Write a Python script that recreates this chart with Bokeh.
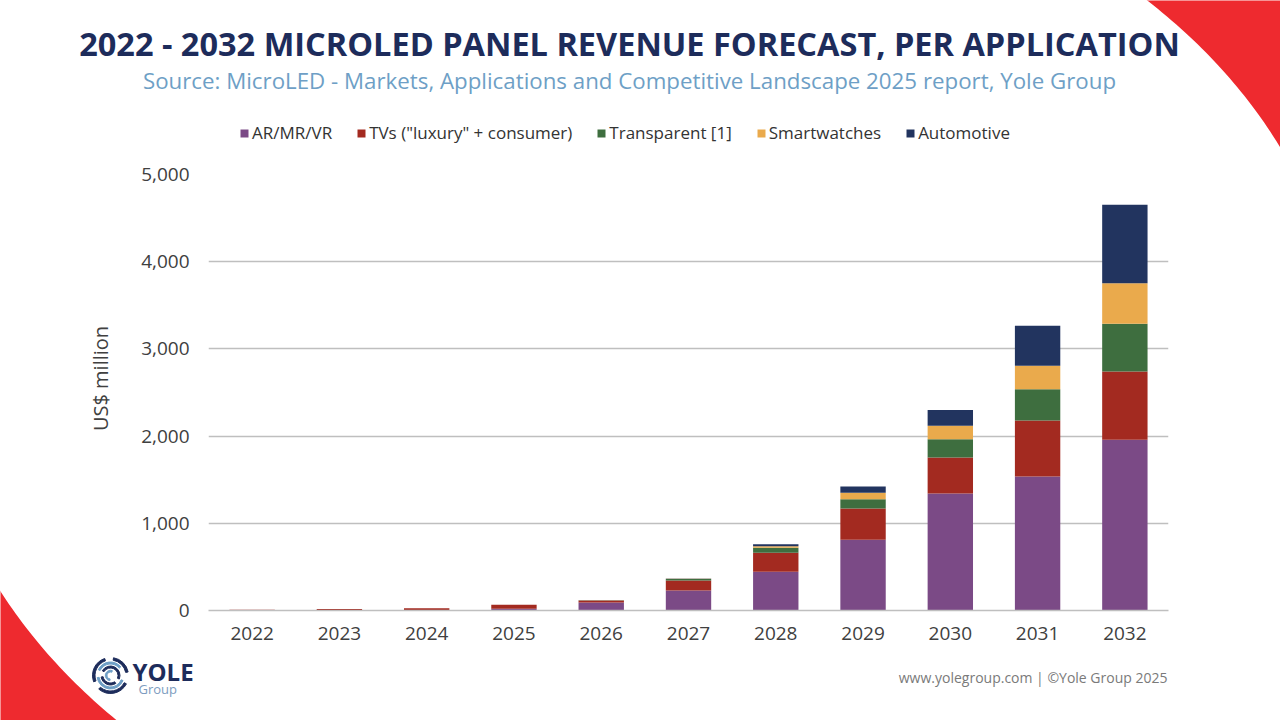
import numpy as np
from bokeh.plotting import figure
from bokeh.layouts import column, row
from bokeh.models import (Range1d, Legend, LegendItem, Label, ColumnDataSource,
                          NumeralTickFormatter, FixedTicker)
from bokeh.embed import file_html
from bokeh.resources import INLINE

# ---------------- data ----------------
years = ["2022", "2023", "2024", "2025", "2026", "2027", "2028", "2029", "2030", "2031", "2032"]
ar_mr_vr = [1, 2, 4, 20, 93, 229, 444, 811, 1342, 1537, 1957]
tvs = [9, 16, 21, 45, 22, 115, 218, 359, 413, 642, 783]
transparent = [0, 0, 0, 0, 3, 17, 57, 107, 210, 359, 547]
smartwatches = [0, 0, 0, 0, 0, 3, 18, 73, 154, 268, 466]
automotive = [0, 0, 0, 0, 0, 3, 23, 72, 179, 459, 899]

series_names = ["AR/MR/VR", 'TVs ("luxury" + consumer)', "Transparent [1]", "Smartwatches", "Automotive"]
series_keys = ["ar", "tv", "tr", "sw", "au"]
colors = ["#7B4A86", "#A32A20", "#3E6E3F", "#EAAA4C", "#22345F"]
y_ticks = [0, 1000, 2000, 3000, 4000, 5000]

title_text = "2022 - 2032 MICROLED PANEL REVENUE FORECAST, PER APPLICATION"
subtitle_text = "Source: MicroLED - Markets, Applications and Competitive Landscape 2025 report, Yole Group"
footer_text = "www.yolegroup.com | \u00a9Yole Group 2025"
y_title = "US$ million"

FONT = "Open Sans"
NAVY = "#1D2C5B"
LIGHT = "#6E9FC6"
RED = "#EE2A2F"
TXT = "#404040"

# page geometry (pixels)
PW, PH = 1280, 720
HEAD_H = 160
FOOT_H = 70
MID_H = PH - HEAD_H - FOOT_H
LEFT_W = 130
FL, FR, FT, FB = 208, 1168, 174, 610


def deco_fig(width, height, x0, x1, ytop, ybot):
    f = figure(width=width, height=height, x_range=Range1d(x0, x1), y_range=Range1d(ybot, ytop),
               x_axis_type=None, y_axis_type=None, output_backend="svg", toolbar_location=None,
               min_border=0, frame_align=False)
    f.outline_line_color = None
    f.grid.visible = False
    f.background_fill_color = "white"
    f.border_fill_color = "white"
    return f


def ellipse_corner(cx, cy, a, b, t0, t1, corner):
    t = np.linspace(t0, t1, 160)
    xs = list(cx + a * np.cos(t)) + [corner[0]]
    ys = list(cy + b * np.sin(t)) + [corner[1]]
    return xs, ys


# decorative red corners outside a large white ellipse (page coords, y downward)
tr_xs, tr_ys = ellipse_corner(640, 360, 701, 521, -np.pi / 2, 0, (2000, -1000))
bl_xs, bl_ys = ellipse_corner(640, 360, 710, 533, np.pi / 2, np.pi, (-1000, 2000))

src = ColumnDataSource(dict(years=years, ar=ar_mr_vr, tv=tvs, tr=transparent,
                            sw=smartwatches, au=automotive))

# ---------------- header ----------------
head = deco_fig(PW, HEAD_H, 0, PW, 0, HEAD_H)
head.patch(tr_xs, tr_ys, fill_color=RED, line_color=None)
head.add_layout(Label(x=629, y=43, text=title_text, text_align="center", text_baseline="middle",
                      text_font=FONT, text_font_style="bold", text_font_size="32.5px",
                      text_color=NAVY))
head.add_layout(Label(x=629, y=80, text=subtitle_text, text_align="center", text_baseline="middle",
                      text_font=FONT, text_font_size="22.3px", text_color=LIGHT))
# legend swatches: hidden copies of the stacked series (not drawn, only used by the legend)
leg_r = head.vbar_stack(series_keys, x="years", width=0.5, source=src, color=colors,
                        line_color=None, visible=False)
legend = Legend(items=[LegendItem(label=n, renderers=[r]) for n, r in zip(series_names, leg_r)],
                orientation="horizontal", location=(239, HEAD_H - 144),
                glyph_width=10, glyph_height=10, label_standoff=3, spacing=24,
                padding=0, margin=0, border_line_color=None, background_fill_alpha=0,
                label_text_font=FONT, label_text_font_size="17px",
                label_text_color="#333333", label_height=20)
head.add_layout(legend, "center")

# ---------------- left column (y title, red corner, logo icon) ----------------
left = deco_fig(LEFT_W, PH - HEAD_H, 0, LEFT_W, HEAD_H, PH)
left.patch(bl_xs, bl_ys, fill_color=RED, line_color=None)
left.add_layout(Label(x=100, y=378, text=y_title, angle=np.pi / 2, text_align="center",
                      text_baseline="middle", text_font=FONT, text_font_size="20px",
                      text_color=TXT))
lcx, lcy = 110, 675
for r_in, r_out, col, spans in ((15.5, 18, NAVY, [(0.2, 1.4), (1.9, 3.5), (4.0, 5.8)]),
                                (11.5, 13.5, LIGHT, [(0.7, 2.7), (3.3, 5.9)]),
                                (7.5, 9.5, NAVY, [(5.9, 8.9), (3.3, 5.3)]),
                                (3.5, 5.2, LIGHT, [(1.2, 4.6)])):
    for s, e in spans:
        left.annular_wedge(x=lcx, y=lcy, inner_radius=r_in, outer_radius=r_out,
                           start_angle=s, end_angle=e, color=col)

# ---------------- main chart ----------------
main_w = PW - LEFT_W
p = figure(x_range=years, y_range=Range1d(0, 5000), width=main_w, height=MID_H,
           output_backend="svg", toolbar_location=None, frame_align=False,
           min_border_left=FL - LEFT_W, min_border_right=PW - FR,
           min_border_top=FT - HEAD_H, min_border_bottom=HEAD_H + MID_H - FB)
p.outline_line_color = None
p.background_fill_color = "white"
p.border_fill_color = "white"

p.vbar_stack(series_keys, x="years", width=0.52, source=src, color=colors, line_color=None)

p.yaxis.ticker = FixedTicker(ticks=y_ticks)
p.yaxis.formatter = NumeralTickFormatter(format="0,0")
p.yaxis.axis_line_color = None
p.yaxis.major_tick_line_color = None
p.yaxis.minor_tick_line_color = None
p.yaxis.major_label_text_font = FONT
p.yaxis.major_label_text_font_size = "19px"
p.yaxis.major_label_text_color = TXT
p.yaxis.major_label_standoff = 13

p.xaxis.axis_line_color = "#BFBFBF"
p.xaxis.axis_line_width = 1.5
p.xaxis.major_tick_line_color = None
p.xaxis.minor_tick_line_color = None
p.xaxis.major_label_text_font = FONT
p.xaxis.major_label_text_font_size = "19px"
p.xaxis.major_label_text_color = TXT
p.xaxis.major_label_standoff = 10

p.xgrid.grid_line_color = None
p.ygrid.grid_line_color = "#BFBFBF"
p.ygrid.grid_line_width = 1.5

# ---------------- footer ----------------
foot = deco_fig(main_w, FOOT_H, LEFT_W, PW, HEAD_H + MID_H, PH)
foot.add_layout(Label(x=1167, y=677, text=footer_text, text_align="right", text_baseline="middle",
                      text_font=FONT, text_font_size="14px", text_color="#7A7A7A"))
foot.add_layout(Label(x=132, y=671, text="YOLE", text_align="left", text_baseline="middle",
                      text_font=FONT, text_font_style="bold", text_font_size="24px",
                      text_color=NAVY))
foot.add_layout(Label(x=138, y=688, text="Group", text_align="left", text_baseline="middle",
                      text_font=FONT, text_font_size="13px", text_color="#7C9CC0"))

layout = column(head, row(left, column(p, foot, spacing=0), spacing=0), spacing=0)
open("out.html", "w").write(file_html(layout, INLINE))
